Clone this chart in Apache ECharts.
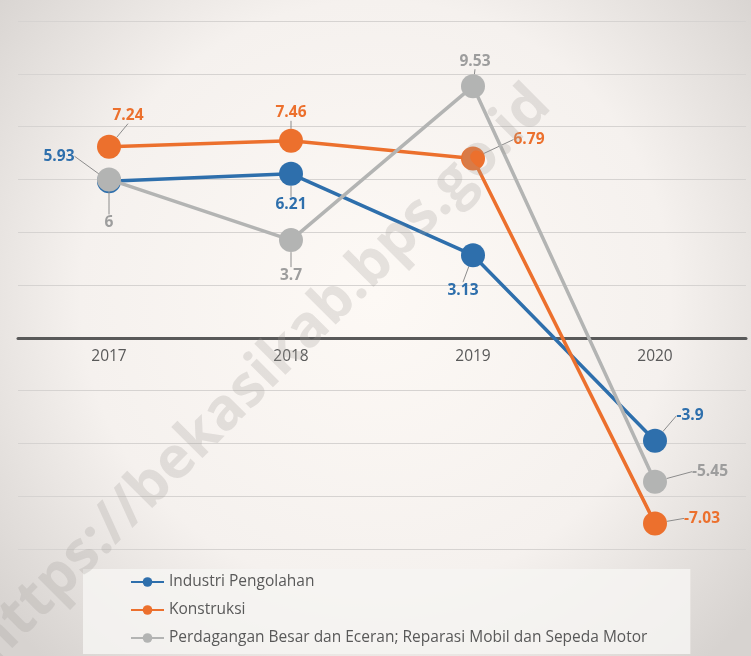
<!DOCTYPE html>
<html>
<head>
<meta charset="utf-8">
<script src="https://cdn.jsdelivr.net/npm/echarts@6/dist/echarts.min.js"></script>
<style>
  html, body { margin: 0; padding: 0; background: #fff; }
  #chart { width: 751px; height: 656px; }
</style>
</head>
<body>
<div id="chart"></div>
<script>
// data
const years = ['2017', '2018', '2019', '2020'];
const seriesNames = [
    'Industri Pengolahan',
    'Konstruksi',
    'Perdagangan Besar dan Eceran; Reparasi Mobil dan Sepeda Motor'
];
const industri = [5.93, 6.21, 3.13, -3.9];
const konstruksi = [7.24, 7.46, 6.79, -7.03];
const perdagangan = [6, 3.7, 9.53, -5.45];

// label offsets (dx, dy) from each point, per series
const labelShift = [
    [[-50, -25], [0, 31], [-10, 35], [35, -25]],
    [[19, -31], [0, -28], [56, -19], [47, -5]],
    [[0, 43], [0, 35], [2, -25], [55, -10]]
];

const colors = ['#2e6fac', '#ec702d', '#b3b4b3'];
const labelColors = ['#2e6fac', '#ec702d', '#9d9d9d'];

// y scale and grid, zero line sits at top + height * max / (max - min)
const yMin = -8, yMax = 12;
const gridTop = 21, gridBottom = 107, chartH = 656;
const gridH = chartH - gridTop - gridBottom;
const zeroShift = gridH * (-yMin) / (yMax - yMin);

const chart = echarts.init(document.getElementById('chart'));

function makeSeries(i, values) {
    return {
        name: seriesNames[i],
        type: 'line',
        data: values,
        symbol: 'circle',
        symbolSize: 24,
        color: colors[i],
        lineStyle: { width: 3.5, color: colors[i] },
        itemStyle: { color: colors[i] },
        z: 2 + i,
        label: {
            show: true,
            position: 'inside',
            color: labelColors[i],
            fontFamily: 'Open Sans',
            fontWeight: 'bold',
            fontSize: 15.5
        },
        labelLine: {
            show: true,
            lineStyle: { color: '#8c8c8c', width: 1 }
        },
        labelLayout: function (params) {
            const s = labelShift[i][params.dataIndex];
            return { dx: s[0], dy: s[1] };
        },
        emphasis: { disabled: true }
    };
}

const option = {
    animation: false,
    backgroundColor: {
        type: 'radial', x: 0.5, y: 0.45, r: 0.75,
        colorStops: [
            { offset: 0, color: '#fdf9f5' },
            { offset: 0.6, color: '#f5f1ee' },
            { offset: 1, color: '#d7d3d0' }
        ]
    },
    grid: { left: 18, right: 5, top: gridTop, bottom: gridBottom },
    legend: {
        orient: 'vertical',
        left: 83,
        top: 569,
        padding: [5, 43, 8, 47],
        itemWidth: 33,
        itemHeight: 12,
        itemGap: 12,
        backgroundColor: 'rgba(246,244,242,0.85)',
        textStyle: { color: '#595959', fontSize: 15.5, fontFamily: 'Open Sans' },
        data: seriesNames
    },
    xAxis: {
        type: 'category',
        data: years,
        offset: -zeroShift,
        axisLine: { onZero: false, lineStyle: { color: '#595959', width: 3 } },
        axisTick: { show: false },
        axisLabel: { color: '#595959', fontSize: 15.5, fontFamily: 'Open Sans', margin: 11 },
        splitLine: { show: false }
    },
    yAxis: {
        type: 'value',
        min: yMin,
        max: yMax,
        interval: 2,
        axisLine: { show: false },
        axisTick: { show: false },
        axisLabel: { show: false },
        splitLine: { lineStyle: { color: '#d6d3d1', width: 1 } }
    },
    graphic: [{
        type: 'text',
        x: 262,
        y: 375,
        rotation: Math.PI / 4,
        z: 100,
        style: {
            text: 'https://bekasikab.bps.go.id',
            fontSize: 58,
            fontWeight: 'bold',
            fontFamily: 'Open Sans',
            fill: 'rgba(160,155,152,0.25)',
            align: 'center',
            verticalAlign: 'middle'
        }
    }],
    series: [
        makeSeries(0, industri),
        makeSeries(1, konstruksi),
        makeSeries(2, perdagangan)
    ]
};

chart.setOption(option);
</script>
</body>
</html>
